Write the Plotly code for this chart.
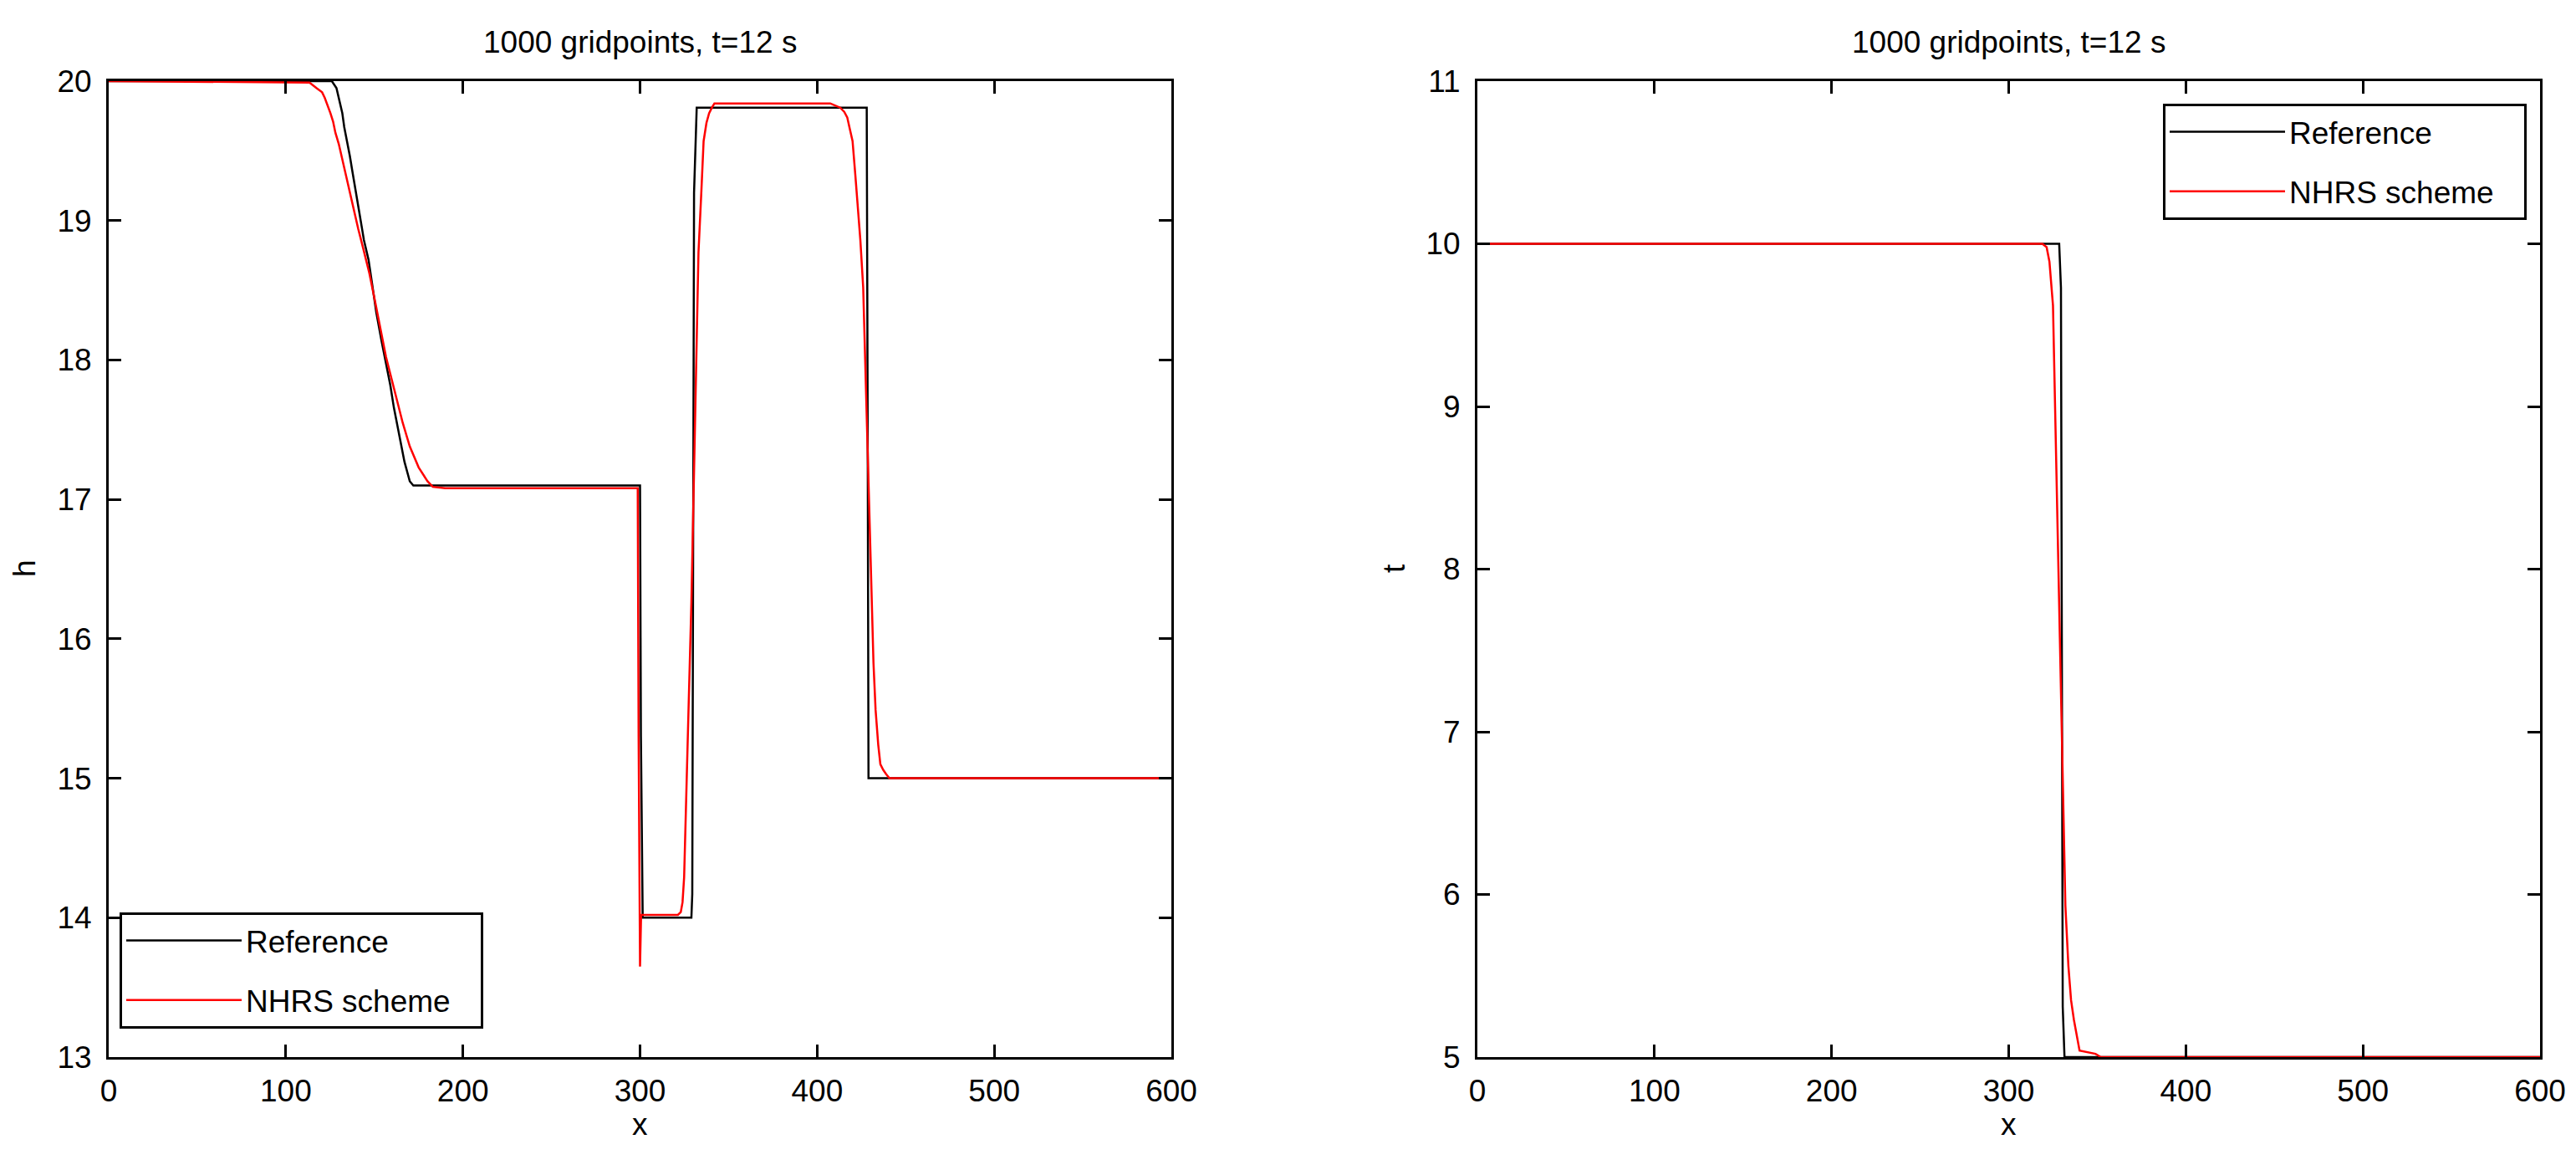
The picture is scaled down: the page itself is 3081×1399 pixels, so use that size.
import plotly.graph_objects as go

# ---------------- data ----------------
# Left panel: water depth h(x)
ref_h_x = [0, 126, 128.6, 130.2, 131.9, 133, 134.6, 136.2, 137.5, 138.9, 140.1, 141.7, 142.8,
           144.1, 146.7, 148.8, 151.1, 154, 156.6, 159, 161, 164, 167, 170, 172,
           300, 300.5, 301.5, 329, 329.5, 330.5, 332, 428, 428.5, 429, 600]
ref_h_y = [20, 20, 19.95, 19.87, 19.77, 19.67, 19.57, 19.46, 19.36, 19.26, 19.16, 19.06, 18.96,
           18.86, 18.72, 18.54, 18.34, 18.14, 17.98, 17.82, 17.66, 17.46, 17.27, 17.13, 17.1,
           17.1, 15.3, 14.0, 14.0, 14.17, 19.2, 19.81, 19.81, 17.67, 15.0, 15.0]

nhrs_h_x = [0, 113.4, 117.3, 120.5, 122, 123.6, 125.2, 126.7, 128, 129.9, 131.5, 133, 134.6,
            136.2, 137.8, 139.3, 140.9, 144.1, 147.2, 150.4, 153.5, 156.6, 159.8, 163, 166,
            170, 175, 180, 183, 190, 298.7, 299.2, 300, 300.6, 321.4, 323, 324, 324.9, 326,
            327.4, 329, 330.4, 332, 333, 334.6, 335.9, 337.5, 339, 340.6, 342, 407.4, 413,
            415.3, 417, 418.4, 420, 421.6, 423, 424.4, 426, 427.5, 428.6, 430.2, 431.8, 433,
            434.5, 435.7, 437.3, 438.9, 440.8, 600]
nhrs_h_y = [20, 19.99, 19.95, 19.92, 19.88, 19.83, 19.77, 19.71, 19.63, 19.55, 19.46, 19.38, 19.28,
            19.2, 19.12, 19.02, 18.94, 18.78, 18.62, 18.42, 18.22, 18.02, 17.86, 17.7, 17.55,
            17.38, 17.23, 17.13, 17.09, 17.08, 17.08, 15.3, 13.65, 14.02, 14.02, 14.04, 14.11,
            14.29, 14.9, 15.5, 16.26, 17.08, 18.2, 18.77, 19.2, 19.57, 19.7, 19.77, 19.81,
            19.84, 19.84, 19.81, 19.78, 19.74, 19.66, 19.57, 19.32, 19.11, 18.86, 18.52, 17.85,
            17.26, 16.67, 15.83, 15.49, 15.24, 15.1, 15.06, 15.03, 15.0, 15.0]

# Right panel: tracer t(x)
ref_t_x = [0, 328.5, 329.5, 330.5, 331.5, 600]
ref_t_y = [10, 10, 9.73, 5.31, 5.0, 5.0]

nhrs_t_x = [0, 319, 321.4, 323, 325, 326.4, 327.7, 329.3, 330.5, 332, 333.7, 335.2, 336.8,
            338.4, 340, 349, 352, 600]
nhrs_t_y = [10, 10, 9.98, 9.89, 9.62, 8.86, 8.18, 7.43, 6.73, 5.93, 5.56, 5.35, 5.23,
            5.14, 5.04, 5.02, 5.0, 5.0]

x_ticks = [0, 100, 200, 300, 400, 500, 600]
h_ticks = [13, 14, 15, 16, 17, 18, 19, 20]
t_ticks = [5, 6, 7, 8, 9, 10, 11]
title_text = "1000 gridpoints, t=12 s"
names = ["Reference", "NHRS scheme"]

# ---------------- figure ----------------
# The page body has an 8 px margin, so the figure is sized to fit the window
# and positions below are given in window pixels, shifted by OFF.
OFF = 8
W, H = 3064, 1380
FONT = "Liberation Sans, Arial, sans-serif"
FS = 37
PAD = "\u00a0\u00a0\u00a0"

def px_x(p):
    return (p - OFF) / W

def px_y(p):
    return 1 - (p - OFF) / H

fig = go.Figure()
specs = [
    (ref_h_x, ref_h_y, names[0], "#000000", "x", "y", "legend", "a0"),
    (nhrs_h_x, nhrs_h_y, names[1], "#ff0000", "x", "y", "legend", "a1"),
    (ref_t_x, ref_t_y, names[0], "#000000", "x2", "y2", "legend2", "b0"),
    (nhrs_t_x, nhrs_t_y, names[1], "#ff0000", "x2", "y2", "legend2", "b1"),
]
for xs, ys, nm, col, xa, ya, lg, grp in specs:
    fig.add_trace(go.Scatter(x=xs, y=ys, mode="lines", name=nm + PAD,
                             line=dict(color=col, width=2.5), xaxis=xa, yaxis=ya,
                             legend=lg, legendgroup=grp))

axis_common = dict(showline=True, linecolor="black", linewidth=3, mirror="ticks",
                   ticks="inside", ticklen=15, tickwidth=2.5, tickcolor="black",
                   showgrid=False, zeroline=False, automargin=False,
                   tickfont=dict(family=FONT, size=FS, color="black"))

ydom = [px_y(1264), px_y(97)]
legend_common = dict(bgcolor="white", bordercolor="black", borderwidth=3,
                     font=dict(family=FONT, size=FS, color="black"), itemwidth=138,
                     tracegroupgap=20, traceorder="grouped")
fig.update_layout(
    template="none",
    width=W, height=H,
    margin=dict(l=0, r=0, t=0, b=0, pad=0, autoexpand=False),
    paper_bgcolor="white", plot_bgcolor="white",
    font=dict(family=FONT, size=FS, color="black"),
    xaxis=dict(domain=[px_x(130), px_x(1401)], range=[0, 600], tickvals=x_ticks,
               anchor="y", ticklabelstandoff=6, **axis_common),
    yaxis=dict(domain=ydom, range=[13, 20], tickvals=h_ticks, anchor="x",
               ticklabelstandoff=10, **axis_common),
    xaxis2=dict(domain=[px_x(1767), px_x(3038)], range=[0, 600], tickvals=x_ticks,
                anchor="y2", ticklabelstandoff=6, **axis_common),
    yaxis2=dict(domain=ydom, range=[5, 11], tickvals=t_ticks, anchor="x2",
                ticklabelstandoff=10, **axis_common),
    legend=dict(x=px_x(143), y=px_y(1091), xanchor="left", yanchor="top", **legend_common),
    legend2=dict(x=px_x(3022), y=px_y(124), xanchor="right", yanchor="top", **legend_common),
    showlegend=True,
)

ann = []
for cx in [(130 + 1401) / 2, (1767 + 3038) / 2]:
    ann.append(dict(text=title_text, x=px_x(cx), y=px_y(50), xref="paper", yref="paper",
                    xanchor="center", yanchor="middle", showarrow=False,
                    font=dict(family=FONT, size=FS, color="black")))
    ann.append(dict(text="x", x=px_x(cx), y=px_y(1322), xref="paper", yref="paper",
                    xanchor="center", yanchor="top", showarrow=False,
                    font=dict(family=FONT, size=FS, color="black")))
for lx, lab in [(29, "h"), (1667, "t")]:
    ann.append(dict(text=lab, x=px_x(lx), y=px_y(680), xref="paper", yref="paper",
                    xanchor="center", yanchor="middle", showarrow=False, textangle=-90,
                    font=dict(family=FONT, size=FS, color="black")))
fig.update_layout(annotations=ann)

fig.write_html("out.html")
